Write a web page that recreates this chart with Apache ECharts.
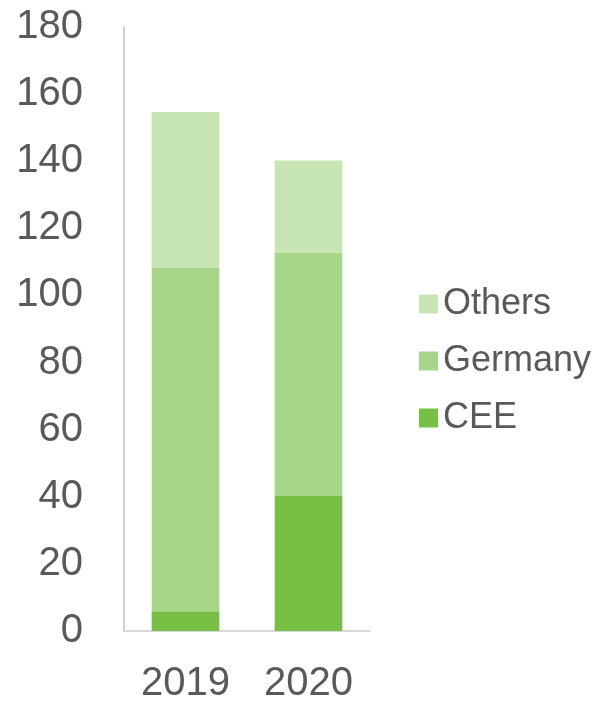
<!DOCTYPE html>
<html><head><meta charset="utf-8">
<script src="https://cdn.jsdelivr.net/npm/echarts@6/dist/echarts.min.js"></script>
<style>html,body{margin:0;padding:0;background:#fff}#c{width:597px;height:704px}</style>
</head><body><div id="c"></div>
<script>
const categories = ['2019', '2020'];
const cee = [5.9, 40.2];
const germany = [102.4, 72.6];
const others = [46.4, 27.4];
const yTicks = [0, 20, 40, 60, 80, 100, 120, 140, 160, 180];

const font = '"Liberation Sans", Arial, sans-serif';
const chart = echarts.init(document.getElementById('c'));
chart.setOption({
  animation: false,
  grid: { left: 124, right: 227, top: 27, bottom: 71 },
  legend: {
    orient: 'vertical', left: 414, top: 280,
    itemWidth: 19, itemHeight: 19, itemGap: 19,
    icon: 'rect',
    data: ['Others', 'Germany', 'CEE'],
    textStyle: { fontFamily: font, fontSize: 36, color: '#595959', lineHeight: 38, padding: [0, 0, 0, 0] }
  },
  xAxis: {
    type: 'category', data: categories,
    axisLine: { lineStyle: { color: '#d9d9d9', width: 2 } },
    axisTick: { show: false },
    axisLabel: { fontFamily: font, fontSize: 40, color: '#595959', margin: 33 }
  },
  yAxis: {
    type: 'value', min: yTicks[0], max: yTicks[yTicks.length - 1], interval: 20,
    axisLine: { show: true, lineStyle: { color: '#d0d0d0', width: 2 } },
    axisTick: { show: false },
    splitLine: { show: false },
    axisLabel: { fontFamily: font, fontSize: 40, color: '#595959', margin: 41 }
  },
  series: [
    { name: 'CEE', type: 'bar', stack: 's', data: cee, barWidth: '55%', itemStyle: { color: '#77bf45' } },
    { name: 'Germany', type: 'bar', stack: 's', data: germany, itemStyle: { color: '#a7d589' } },
    { name: 'Others', type: 'bar', stack: 's', data: others, itemStyle: { color: '#c7e4b3' } }
  ]
});
</script></body></html>
